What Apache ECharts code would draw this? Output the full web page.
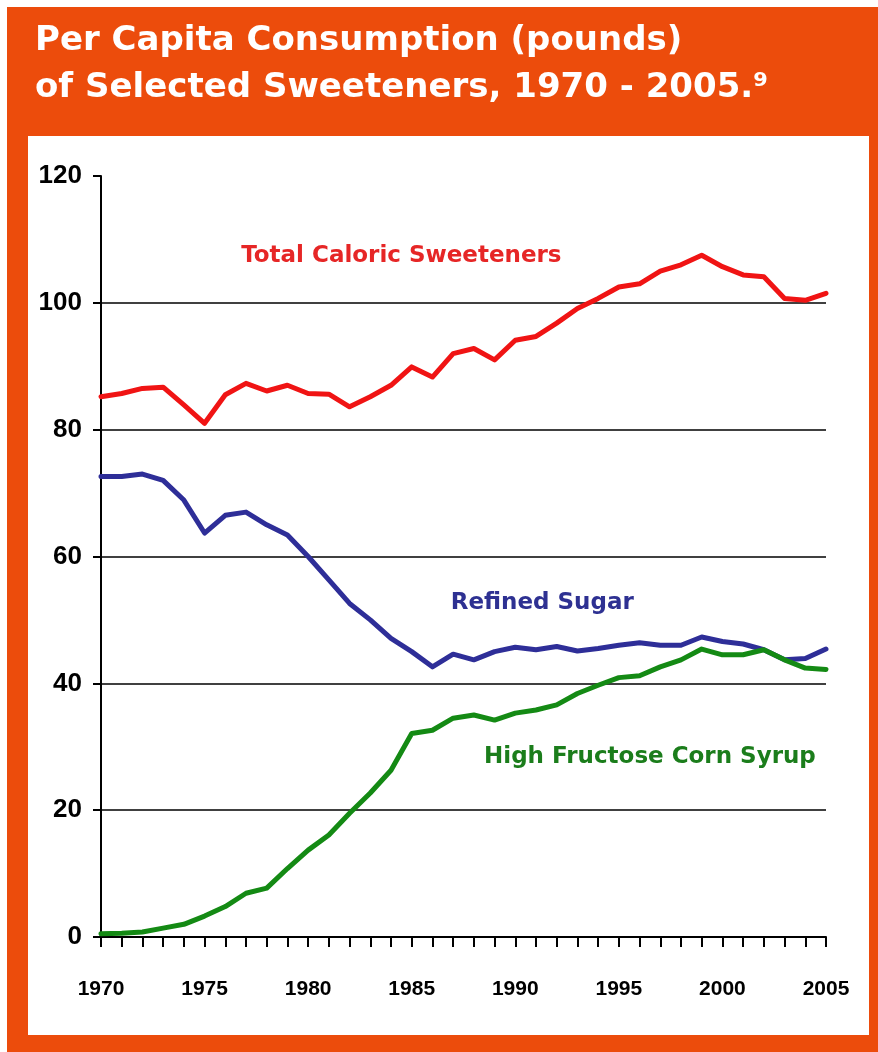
<!DOCTYPE html>
<html>
<head>
<meta charset="utf-8">
<script src="https://cdn.jsdelivr.net/npm/echarts@6/dist/echarts.min.js"></script>
<style>
html,body{margin:0;padding:0;background:#fff;}
#chart{width:878px;height:1052px;}
</style>
</head>
<body>
<div id="chart"></div>
<script>
const years = [1970,1971,1972,1973,1974,1975,1976,1977,1978,1979,
               1980,1981,1982,1983,1984,1985,1986,1987,1988,1989,
               1990,1991,1992,1993,1994,1995,1996,1997,1998,1999,
               2000,2001,2002,2003,2004,2005];
const totalCaloric = [85.2,85.7,86.5,86.7,83.9,81.0,85.5,87.3,86.1,87.0,
                      85.7,85.6,83.6,85.2,87.0,89.9,88.3,92.0,92.8,91.0,
                      94.1,94.7,96.8,99.1,100.7,102.5,103.0,105.0,106.0,107.5,
                      105.7,104.4,104.1,100.7,100.4,101.5];
const refinedSugar = [72.6,72.6,73.0,72.0,68.9,63.7,66.5,67.0,65.0,63.4,
                      60.0,56.3,52.6,50.0,47.1,45.0,42.6,44.6,43.7,45.0,
                      45.7,45.3,45.8,45.1,45.5,46.0,46.4,46.0,46.0,47.3,
                      46.6,46.2,45.3,43.7,43.9,45.4];
const hfcs = [0.5,0.6,0.8,1.4,2.0,3.3,4.8,6.9,7.7,10.8,
              13.7,16.1,19.5,22.7,26.3,32.1,32.6,34.5,35.0,34.2,
              35.3,35.8,36.6,38.4,39.7,40.9,41.2,42.6,43.7,45.4,
              44.5,44.5,45.3,43.7,42.4,42.2];
const seriesNames = ['Total Caloric Sweeteners','Refined Sugar','High Fructose Corn Syrup'];
const labelAnchors = [[1984.5,107.4],[1991.3,52.7],[1996.5,28.4]];
const titleLines = ['Per Capita Consumption (pounds)','of Selected Sweeteners, 1970 - 2005.\u2079'];

const lineColors = ['#F01414','#2E2E98','#148A14'];
const textColors = ['#E62626','#2E3192','#1B7D1B'];
const values = [totalCaloric, refinedSugar, hfcs];

const chart = echarts.init(document.getElementById('chart'), null, {renderer:'canvas'});

const series = values.map((arr, i) => ({
  name: seriesNames[i],
  type: 'line',
  data: years.map((y, k) => [y, arr[k]]),
  showSymbol: false,
  symbol: 'none',
  lineStyle: {color: lineColors[i], width: 5, join: 'round', cap: 'round'},
  itemStyle: {color: lineColors[i]},
  z: 3,
  animation: false,
  markPoint: {
    symbol: 'rect',
    symbolSize: [1,1],
    itemStyle: {color: 'rgba(0,0,0,0)'},
    silent: true,
    animation: false,
    data: [{coord: labelAnchors[i], value: seriesNames[i]}],
    label: {
      show: true,
      position: 'inside',
      formatter: seriesNames[i],
      color: textColors[i],
      fontFamily: 'DejaVu Sans',
      fontWeight: 'bold',
      fontSize: 23
    }
  }
}));

chart.setOption({
  backgroundColor: '#ffffff',
  animation: false,
  graphic: [
    {type:'rect', z:-20, shape:{x:7,y:7,width:871,height:1045}, style:{fill:'#EC4C0C'}},
    {type:'rect', z:-19, shape:{x:28,y:136,width:841,height:899}, style:{fill:'#ffffff'}},
    {type:'text', z:10, left:35, top:24, style:{text:titleLines[0], fill:'#ffffff', font:'bold 34px "DejaVu Sans"'}},
    {type:'text', z:10, left:35, top:71, style:{text:titleLines[1], fill:'#ffffff', font:'bold 34px "DejaVu Sans"'}}
  ],
  grid: {left:101, right:52, top:176, bottom:115, containLabel:false},
  xAxis: {
    type: 'value',
    min: 1970, max: 2005, interval: 1,
    axisLine: {show:true, onZero:false, lineStyle:{color:'#000', width:2}},
    axisTick: {show:true, length:10, lineStyle:{color:'#000', width:2}},
    splitLine: {show:false},
    axisLabel: {
      margin: 42,
      color: '#000',
      fontFamily: 'Liberation Sans',
      fontWeight: 'bold',
      fontSize: 21,
      formatter: v => (v % 5 === 0 ? String(v) : '')
    }
  },
  yAxis: {
    type: 'value',
    min: 0, max: 120, interval: 20,
    axisLine: {show:true, lineStyle:{color:'#000', width:2}},
    axisTick: {show:true, length:8, lineStyle:{color:'#000', width:2}},
    splitLine: {show:true, showMaxLine:false, showMinLine:false, lineStyle:{color:'#000', width:1.6}},
    axisLabel: {
      margin: 19,
      color: '#000',
      fontFamily: 'Liberation Sans',
      fontWeight: 'bold',
      fontSize: 26
    }
  },
  series: series
});
</script>
</body>
</html>
